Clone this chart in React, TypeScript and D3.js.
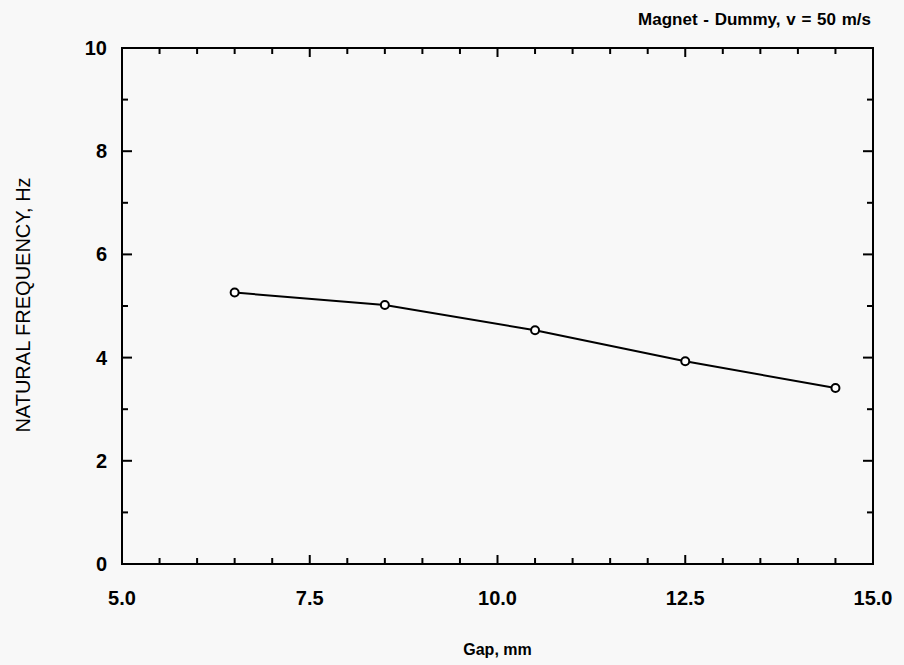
import * as d3 from 'd3'
import { useEffect, useRef } from 'react'

// data
const gapMm = [6.5, 8.5, 10.5, 12.5, 14.5]
const naturalFreqHz = [5.26, 5.02, 4.53, 3.93, 3.41]
const xTickLabels = ['5.0', '7.5', '10.0', '12.5', '15.0']
const yTickLabels = ['0', '2', '4', '6', '8', '10']

const App = () => {
  const svgRef = useRef<SVGSVGElement>(null)

  useEffect(() => {
    const width = 904
    const height = 665
    const margin = { top: 48, right: 31, bottom: 101, left: 122 }
    const font = 'Arial, "Liberation Sans", Helvetica, sans-serif'

    const svg = d3.select(svgRef.current)
    svg.selectAll('*').remove()

    svg.append('rect').attr('width', width).attr('height', height).attr('fill', '#f8f8f8')

    const x = d3.scaleLinear().domain([5, 15]).range([margin.left, width - margin.right])
    const y = d3.scaleLinear().domain([0, 10]).range([height - margin.bottom, margin.top])

    const x0 = x.range()[0], x1 = x.range()[1]
    const y0 = y.range()[0], y1 = y.range()[1]

    // frame
    svg.append('rect')
      .attr('x', x0).attr('y', y1)
      .attr('width', x1 - x0).attr('height', y0 - y1)
      .attr('fill', 'none').attr('stroke', '#000').attr('stroke-width', 2)

    // inward ticks on all sides
    const xTicks = d3.range(5, 15.01, 0.5)
    const yTicks = d3.range(0, 10.01, 1)
    const g = svg.append('g').attr('stroke', '#000').attr('stroke-width', 2)
    xTicks.forEach(t => {
      const len = Math.abs(t / 2.5 - Math.round(t / 2.5)) < 1e-6 ? 9 : 6
      g.append('line').attr('x1', x(t)).attr('x2', x(t)).attr('y1', y0).attr('y2', y0 - len)
      g.append('line').attr('x1', x(t)).attr('x2', x(t)).attr('y1', y1).attr('y2', y1 + len)
    })
    yTicks.forEach(t => {
      const len = t % 2 === 0 ? 10 : 6
      g.append('line').attr('y1', y(t)).attr('y2', y(t)).attr('x1', x0).attr('x2', x0 + len)
      g.append('line').attr('y1', y(t)).attr('y2', y(t)).attr('x1', x1).attr('x2', x1 - len)
    })

    // tick labels
    svg.append('g').selectAll('text')
      .data(xTickLabels)
      .join('text')
      .attr('x', d => x(+d))
      .attr('y', y0 + 41)
      .attr('text-anchor', 'middle')
      .attr('font-family', font).attr('font-weight', 'bold').attr('font-size', 20)
      .text(d => d)

    svg.append('g').selectAll('text')
      .data(yTickLabels)
      .join('text')
      .attr('x', x0 - 15)
      .attr('y', d => y(+d) + 7)
      .attr('text-anchor', 'end')
      .attr('font-family', font).attr('font-weight', 'bold').attr('font-size', 20)
      .text(d => d)

    // line + markers
    const pts = gapMm.map((g, i) => [g, naturalFreqHz[i]] as [number, number])
    svg.append('path')
      .datum(pts)
      .attr('fill', 'none').attr('stroke', '#000').attr('stroke-width', 2)
      .attr('d', d3.line().x(d => x(d[0])).y(d => y(d[1])))

    svg.append('g').selectAll('circle')
      .data(pts)
      .join('circle')
      .attr('cx', d => x(d[0])).attr('cy', d => y(d[1]))
      .attr('r', 4)
      .attr('fill', '#fff').attr('stroke', '#000').attr('stroke-width', 2)

    // titles
    svg.append('text')
      .attr('x', x1 - 2).attr('y', 25)
      .attr('text-anchor', 'end')
      .attr('font-family', font).attr('font-weight', 'bold').attr('font-size', 17)
      .attr('word-spacing', 1)
      .text('Magnet - Dummy, v = 50 m/s')

    svg.append('text')
      .attr('x', (x0 + x1) / 2).attr('y', 655)
      .attr('text-anchor', 'middle')
      .attr('font-family', font).attr('font-weight', 'bold').attr('font-size', 16)
      .text('Gap, mm')

    svg.append('text')
      .attr('transform', `translate(30, 305) rotate(-90)`)
      .attr('text-anchor', 'middle')
      .attr('font-family', font).attr('font-size', 20)
      .text('NATURAL FREQUENCY, Hz')
  }, [])

  return (
    <svg ref={svgRef} width={904} height={665}
      style={{ position: 'absolute', left: 0, top: 0, display: 'block' }} />
  )
}

export default App
